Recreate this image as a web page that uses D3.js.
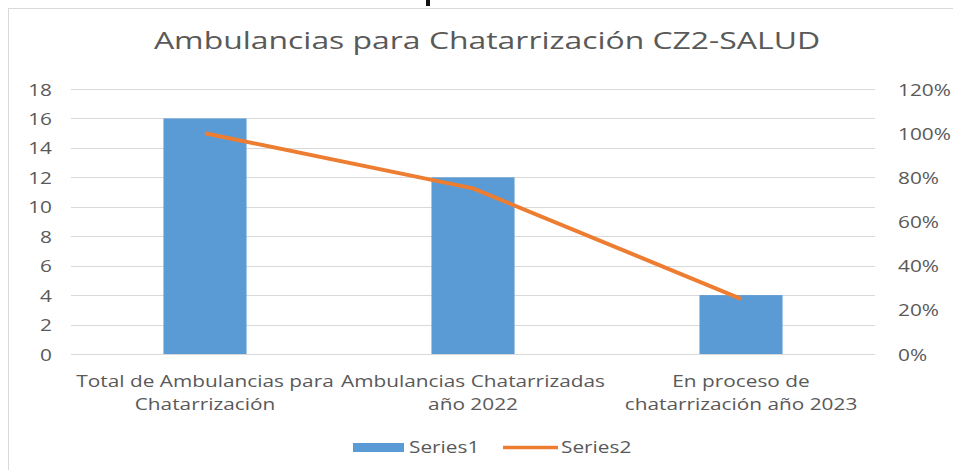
<!DOCTYPE html>
<html>
<head>
<meta charset="utf-8">
<script src="https://cdn.jsdelivr.net/npm/d3@7"></script>
<style>
  body { margin: 0; background: #fff; }
  svg text { font-family: "Open Sans", sans-serif; fill: #595959; }
</style>
</head>
<body>
<div id="chart"></div>
<script>
// data
const categories = [
  ["Total de Ambulancias para", "Chatarrización"],
  ["Ambulancias Chatarrizadas", "año 2022"],
  ["En proceso de", "chatarrización año 2023"]
];
const series1 = [16, 12, 4];
const series2 = [1.0, 0.75, 0.25];
const leftTicks = [0, 2, 4, 6, 8, 10, 12, 14, 16, 18];
const rightTicks = [0, 0.2, 0.4, 0.6, 0.8, 1.0, 1.2];
const seriesNames = ["Series1", "Series2"];
const title = "Ambulancias para Chatarrización CZ2-SALUD";

const width = 953, height = 470;
const stretch = 1.24; // text in the picture is wider than normal
const margin = { left: 71, right: 78, top: 89, bottom: 116 };
const iwidth = width - margin.left - margin.right;
const iheight = height - margin.top - margin.bottom;
const blue = "#5b9bd5", orange = "#ed7d31", grid = "#d9d9d9";

const svg = d3.select("#chart").append("svg")
  .attr("width", width)
  .attr("height", height);

// frame of the chart area
svg.append("rect")
  .attr("x", 8.5).attr("y", 8.5)
  .attr("width", 970).attr("height", 480)
  .attr("fill", "none").attr("stroke", grid);

// bit of cut-off text above the chart
svg.append("rect")
  .attr("x", 426).attr("y", 0).attr("width", 4).attr("height", 6)
  .attr("fill", "#111");

svg.append("text")
  .attr("transform", `translate(487,49) scale(1.33,1)`)
  .attr("text-anchor", "middle")
  .style("font-size", "24px")
  .text(title);

const g = svg.append("g").attr("transform", `translate(${margin.left},${margin.top})`);

const x = d3.scaleBand()
  .domain(d3.range(categories.length))
  .range([0, iwidth])
  .paddingInner(0.69)
  .paddingOuter(0.345);

const y = d3.scaleLinear().domain([0, 18]).range([iheight, 0]);
const y2 = d3.scaleLinear().domain([0, 1.2]).range([iheight, 0]);

// gridlines
g.append("g").selectAll("line").data(leftTicks).enter().append("line")
  .attr("x1", 0).attr("x2", iwidth)
  .attr("y1", d => Math.round(y(d)) + 0.5)
  .attr("y2", d => Math.round(y(d)) + 0.5)
  .attr("stroke", grid).attr("stroke-width", 1);

// left axis
const yl = g.append("g")
  .call(d3.axisLeft(y).tickValues(leftTicks).tickSize(0).tickPadding(0));
yl.select(".domain").remove();
yl.selectAll("text")
  .attr("x", null).attr("dy", null)
  .attr("transform", `translate(-19,6) scale(${stretch},1)`)
  .attr("text-anchor", "end")
  .style("font-size", "16.8px")
  .style("font-family", "Open Sans")
  .attr("fill", "#595959");

// right axis
const yr = g.append("g")
  .attr("transform", `translate(${iwidth},0)`)
  .call(d3.axisRight(y2).tickValues(rightTicks).tickSize(0).tickFormat(d3.format(".0%")));
yr.select(".domain").remove();
yr.selectAll("text")
  .attr("x", null).attr("dy", null)
  .attr("transform", `translate(23,6) scale(${stretch},1)`)
  .attr("text-anchor", "start")
  .style("font-size", "16.8px")
  .style("font-family", "Open Sans")
  .attr("fill", "#595959");

// bars
g.selectAll("rect.bar").data(series1).enter().append("rect")
  .attr("class", "bar")
  .attr("x", (d, i) => x(i))
  .attr("y", d => y(d))
  .attr("width", x.bandwidth())
  .attr("height", d => iheight - y(d))
  .attr("fill", blue);

// line
const line = d3.line()
  .x((d, i) => x(i) + x.bandwidth() / 2)
  .y(d => y2(d));
g.append("path")
  .datum(series2)
  .attr("d", line)
  .attr("fill", "none")
  .attr("stroke", orange)
  .attr("stroke-width", 4)
  .attr("stroke-linejoin", "round");

// category labels
const cat = g.append("g").selectAll("text").data(categories).enter().append("text")
  .attr("transform", (d, i) => `translate(${x(i) + x.bandwidth() / 2},${iheight + 33}) scale(${stretch},1)`)
  .attr("text-anchor", "middle")
  .style("font-size", "16.8px");
cat.selectAll("tspan").data(d => d).enter().append("tspan")
  .attr("x", 0)
  .attr("dy", (d, i) => i === 0 ? 0 : 23.5)
  .text(d => d);

// legend
const leg = svg.append("g");
leg.append("rect")
  .attr("x", 353).attr("y", 443).attr("width", 51).attr("height", 9)
  .attr("fill", blue);
leg.append("text")
  .attr("transform", `translate(409,452.5) scale(${stretch},1)`)
  .style("font-size", "16.8px")
  .text(seriesNames[0]);
leg.append("line")
  .attr("x1", 503).attr("x2", 558).attr("y1", 447.5).attr("y2", 447.5)
  .attr("stroke", orange).attr("stroke-width", 3.5);
leg.append("text")
  .attr("transform", `translate(561,452.5) scale(${stretch},1)`)
  .style("font-size", "16.8px")
  .text(seriesNames[1]);
</script>
</body>
</html>
